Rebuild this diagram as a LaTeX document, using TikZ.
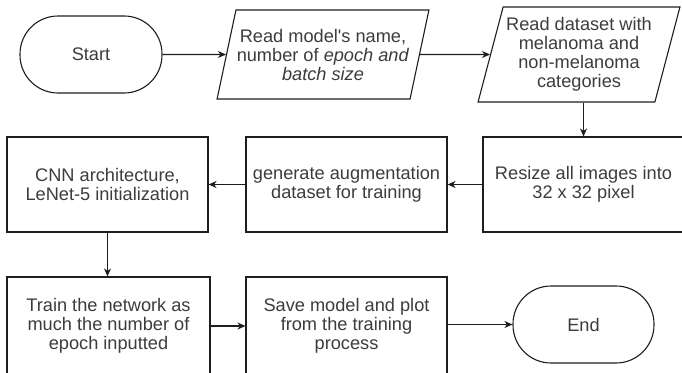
\documentclass[tikz,border=0pt]{standalone}
\usepackage{fontspec}
\setmainfont{Liberation Sans}
\usepackage{tikz}
\usetikzlibrary{arrows.meta,shapes.geometric}
\definecolor{txtgray}{RGB}{60, 60, 60}
\definecolor{linegray}{RGB}{30, 30, 30}

\tikzset{
  base/.style = {draw = linegray, line width = 1.1pt, text = txtgray, align = center,
                 font = \fontsize{18.2}{19}\selectfont, inner sep = 0pt},
  terminal/.style = {base, rectangle, rounded corners = 38pt,
                     minimum width = 142pt, minimum height = 77pt},
  process/.style = {base, rectangle, minimum width = 201pt, minimum height = 95pt},
  io/.style = {base, trapezium, trapezium stretches = true,
               trapezium left angle = #1, trapezium right angle = 180-#1},
  flow/.style = {draw = linegray, line width = 1.1pt, -{Stealth[length = 8pt, width = 7pt, inset = 2.5pt]}}
}

\begin{document}
\begin{tikzpicture}[x = 1pt, y = -1pt]
			\useasboundingbox (0,0) rectangle (682,372);
			\node (start) at (91,54.5) [terminal] {Start};
			\node (readmodel) at (323,54.5) [io = 70, minimum width = 212pt, minimum height = 89pt]
				{Read model\textquotesingle s name,\\ number of \textit{epoch and}\\ \textit{batch size}};
			\node (readdata) at (579,54.5) [io = 72, minimum width = 202pt, minimum height = 95pt]
				{Read dataset with\\ melanoma and\\ non-melanoma\\ categories};
			\node (resize) at (583.5,184.5) [process] {Resize all images into\\ 32 x 32 pixel};
			\node (augment) at (346.5,184.5) [process] {generate augmentation\\ dataset for training};
			\node (cnn) at (107.5,184.5) [process] {CNN architecture,\\ LeNet-5 initialization};
			\node (train) at (108.5,326) [process, minimum width = 203pt, minimum height = 98pt]
				{Train the network as\\ much the number of\\ epoch inputted};
			\node (save) at (346.5,326) [process, minimum height = 98pt]
				{Save model and plot\\ from the training\\ process};
			\node (end) at (583.5,324.5) [terminal, minimum width = 141pt] {End};
			\draw[flow] (start) -- (readmodel);
			\draw[flow] (readmodel) -- (readdata);
			\draw[flow] (readdata.south -| resize.north) -- (resize.north);
			\draw[flow] (resize) -- (augment);
			\draw[flow] (augment) -- (cnn);
			\draw[flow] (cnn.south) -- (cnn.south |- train.north);
			\draw[flow] (train) -- (save);
			\draw[flow] (save.east |- end) -- (end);
\end{tikzpicture}
\end{document}
